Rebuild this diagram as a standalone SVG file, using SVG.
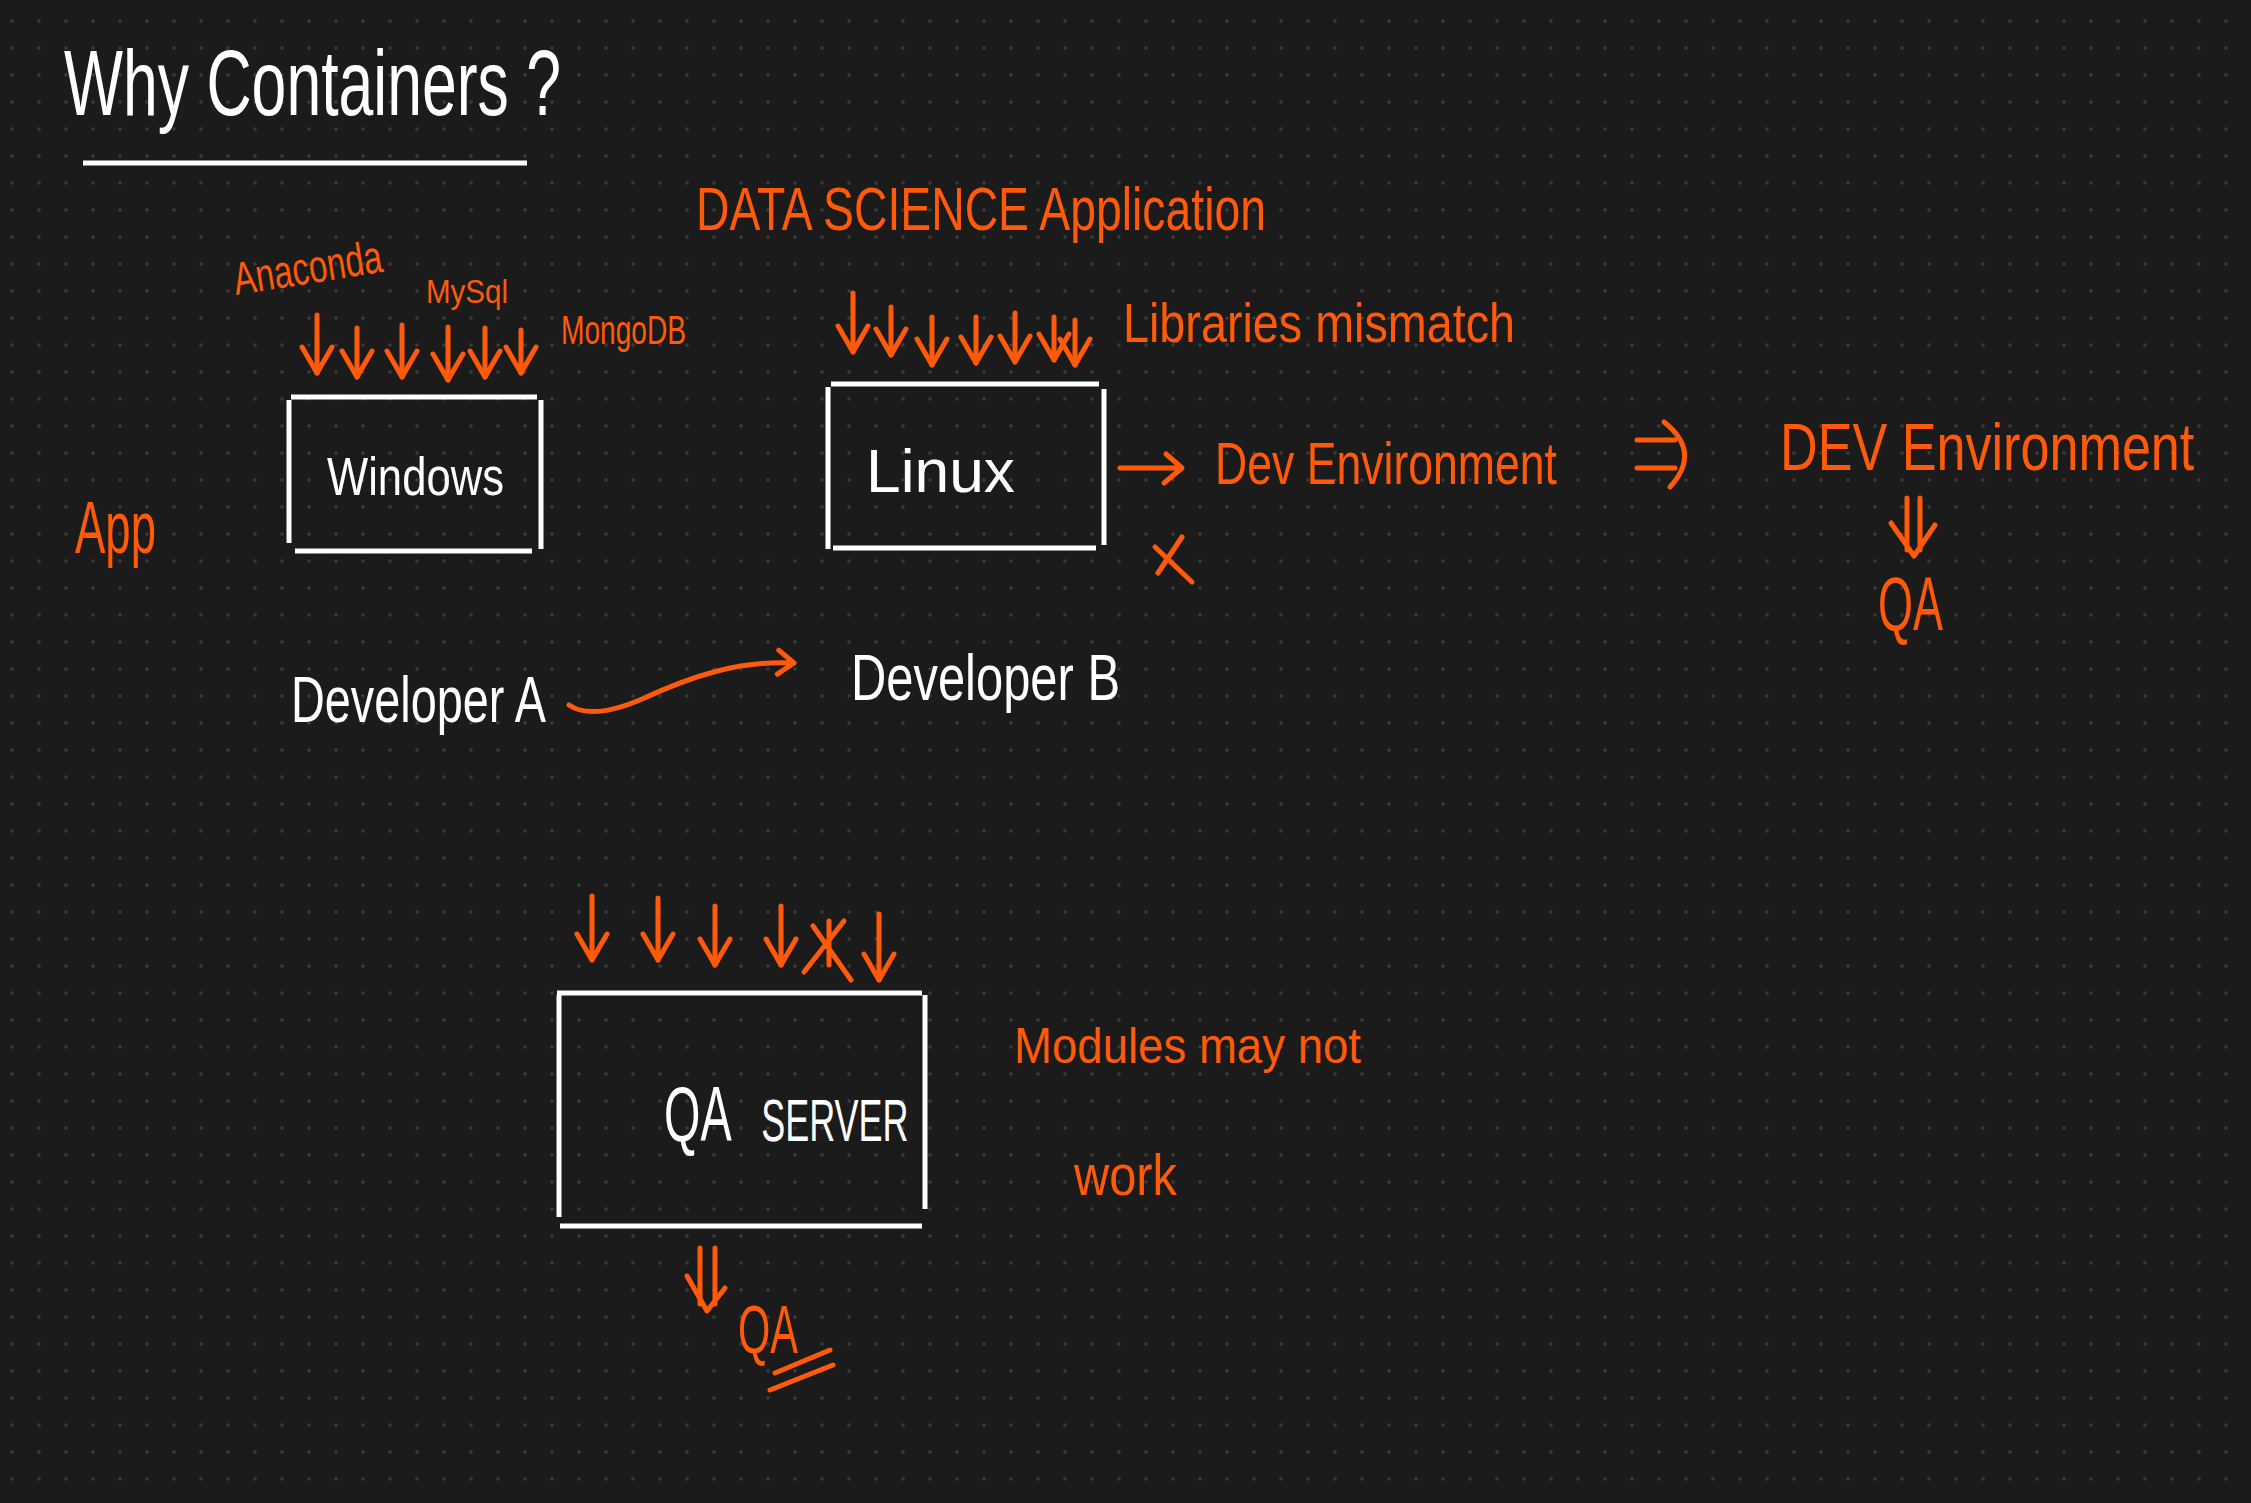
<svg xmlns="http://www.w3.org/2000/svg" width="2251" height="1503" viewBox="0 0 2251 1503">
<defs>
<pattern id="dots" x="0" y="0" width="27" height="27" patternUnits="userSpaceOnUse"><circle cx="12" cy="21" r="1.8" fill="#3b3b3b"/></pattern>
<marker id="ah" viewBox="-3 -3 36 40" refX="28" refY="17" markerWidth="36" markerHeight="40" markerUnits="userSpaceOnUse" orient="auto"><path d="M2,2 L28,17 L2,32" fill="none" stroke="#ff5a0a" stroke-width="5" stroke-linecap="round" stroke-linejoin="round"/></marker>
<marker id="ahs" viewBox="-3 -3 26 34" refX="18" refY="14" markerWidth="26" markerHeight="34" markerUnits="userSpaceOnUse" orient="auto"><path d="M2,2 L18,14 L2,26" fill="none" stroke="#ff5a0a" stroke-width="5" stroke-linecap="round" stroke-linejoin="round"/></marker>
</defs>
<style>
.w{fill:#ffffff;font-family:"Liberation Sans",Arial,sans-serif}
.o{fill:#ff5a0a;font-family:"Liberation Sans",Arial,sans-serif}
.bx{stroke:#ffffff;stroke-width:5;stroke-linecap:butt;fill:none}
.ol{stroke:#ff5a0a;stroke-width:5;fill:none;stroke-linecap:round;stroke-linejoin:round}
.arr{marker-end:url(#ah)}
.arrs{marker-end:url(#ahs)}
</style>
<rect width="2251" height="1503" fill="#1b1b1b"/>
<rect width="2251" height="1503" fill="url(#dots)"/>

<g id="title">
<text class="w" x="64" y="115" font-size="92" textLength="497" lengthAdjust="spacingAndGlyphs">Why Containers ?</text>
<line class="bx" x1="83" y1="163" x2="527" y2="163"/>
</g>

<g id="data-science-app"><text class="o" x="696" y="230" font-size="62" textLength="570" lengthAdjust="spacingAndGlyphs">DATA SCIENCE Application</text></g>
<g id="anaconda"><text class="o" x="236" y="295" font-size="46" textLength="150" lengthAdjust="spacingAndGlyphs" transform="rotate(-9 236 295)">Anaconda</text></g>
<g id="mysql"><text class="o" x="426" y="303" font-size="34" textLength="82" lengthAdjust="spacingAndGlyphs">MySql</text></g>
<g id="mongodb"><text class="o" x="561" y="344" font-size="40" textLength="125" lengthAdjust="spacingAndGlyphs">MongoDB</text></g>
<g id="app"><text class="o" x="75" y="553" font-size="74" textLength="81" lengthAdjust="spacingAndGlyphs">App</text></g>

<g id="windows">
<line class="bx" x1="291" y1="397" x2="537" y2="397"/>
<line class="bx" x1="289" y1="400" x2="289" y2="543"/>
<line class="bx" x1="541" y1="400" x2="541" y2="549"/>
<line class="bx" x1="295" y1="551" x2="532" y2="551"/>
<text class="w" x="327" y="495" font-size="54" textLength="177" lengthAdjust="spacingAndGlyphs">Windows</text>
</g>

<g id="linux">
<line class="bx" x1="831" y1="384" x2="1099" y2="384"/>
<line class="bx" x1="828" y1="387" x2="828" y2="549"/>
<line class="bx" x1="1104" y1="389" x2="1104" y2="545"/>
<line class="bx" x1="833" y1="548" x2="1096" y2="548"/>
<text class="w" x="866" y="492" font-size="62" textLength="149" lengthAdjust="spacingAndGlyphs">Linux</text>
</g>

<g id="libraries-mismatch"><text class="o" x="1123" y="342" font-size="56" textLength="392" lengthAdjust="spacingAndGlyphs">Libraries mismatch</text></g>
<g id="dev-environment"><text class="o" x="1215" y="484" font-size="60" textLength="342" lengthAdjust="spacingAndGlyphs">Dev Environment</text></g>
<g id="dev-environment-2"><text class="o" x="0" y="0" font-size="66" transform="translate(1780 470) scale(0.79 1)">DEV Environment</text></g>
<g id="qa-right"><text class="o" x="1878" y="630" font-size="76" textLength="65" lengthAdjust="spacingAndGlyphs">QA</text></g>

<g id="developer-a"><text class="w" x="291" y="722" font-size="64" textLength="255" lengthAdjust="spacingAndGlyphs">Developer A</text></g>
<g id="developer-b"><text class="w" x="851" y="700" font-size="64" textLength="269" lengthAdjust="spacingAndGlyphs">Developer B</text></g>

<g id="qa-server">
<line class="bx" x1="557" y1="993" x2="922" y2="993"/>
<line class="bx" x1="559" y1="995" x2="559" y2="1217"/>
<line class="bx" x1="925" y1="995" x2="925" y2="1209"/>
<line class="bx" x1="560" y1="1226" x2="922" y2="1226"/>
<text class="w" x="0" y="0" transform="translate(664 1141) scale(0.6 1)"><tspan font-size="78">QA</tspan><tspan x="162" font-size="60">SERVER</tspan></text>
</g>

<g id="modules-may-not"><text class="o" x="1014" y="1063" font-size="50" textLength="347" lengthAdjust="spacingAndGlyphs">Modules may not</text></g>
<g id="work"><text class="o" x="1074" y="1195" font-size="58" textLength="103" lengthAdjust="spacingAndGlyphs">work</text></g>
<g id="qa-bottom"><text class="o" x="738" y="1353" font-size="68" textLength="60" lengthAdjust="spacingAndGlyphs">QA</text></g>

<g id="connectors">
<path class="ol arr" d="M317,315 L317,373"/>
<path class="ol arr" d="M357,328 L357,377"/>
<path class="ol arr" d="M402,325 L402,377"/>
<path class="ol arr" d="M448,327 L448,380"/>
<path class="ol arr" d="M485,328 L485,377"/>
<path class="ol arr" d="M521,330 L521,373"/>

<path class="ol arr" d="M853,293 L853,352"/>
<path class="ol arr" d="M891,307 L891,355"/>
<path class="ol arr" d="M932,317 L932,365"/>
<path class="ol arr" d="M976,317 L976,363"/>
<path class="ol arr" d="M1015,313 L1015,362"/>
<path class="ol arr" d="M1054,317 L1054,360"/>
<path class="ol arr" d="M1075,320 L1075,365"/>

<path class="ol" d="M1120,468 L1181,468 M1166,454 L1182,468 L1164,483"/>
<path class="ol" d="M1637,440 L1675,440 M1637,468 L1675,468 M1664,422 Q1702,452 1670,487"/>
<path class="ol" d="M1907,498 L1907,550 M1920,498 L1920,550 M1891,523 L1914,556 L1935,525"/>

<path class="ol arrs" d="M569,705 C585,716 612,712 642,699 C692,676 740,660 794,663"/>

<path class="ol arr" d="M592,896 L592,960"/>
<path class="ol arr" d="M658,898 L658,960"/>
<path class="ol arr" d="M715,906 L715,965"/>
<path class="ol arr" d="M781,906 L781,965"/>
<path class="ol arr" d="M879,914 L879,980"/>
<path class="ol" d="M829,921 L829,965 M813,926 L851,980 M844,921 L804,972"/>

<path class="ol" d="M700,1248 L700,1304 M715,1248 L715,1304 M687,1276 L707,1311 L725,1288"/>
</g>

<g id="marks">
<path class="ol" d="M1182,537 L1158,573 M1155,547 L1192,582"/>
<path class="ol" d="M775,1373 L830,1350 M770,1390 L833,1365"/>
</g>
</svg>
